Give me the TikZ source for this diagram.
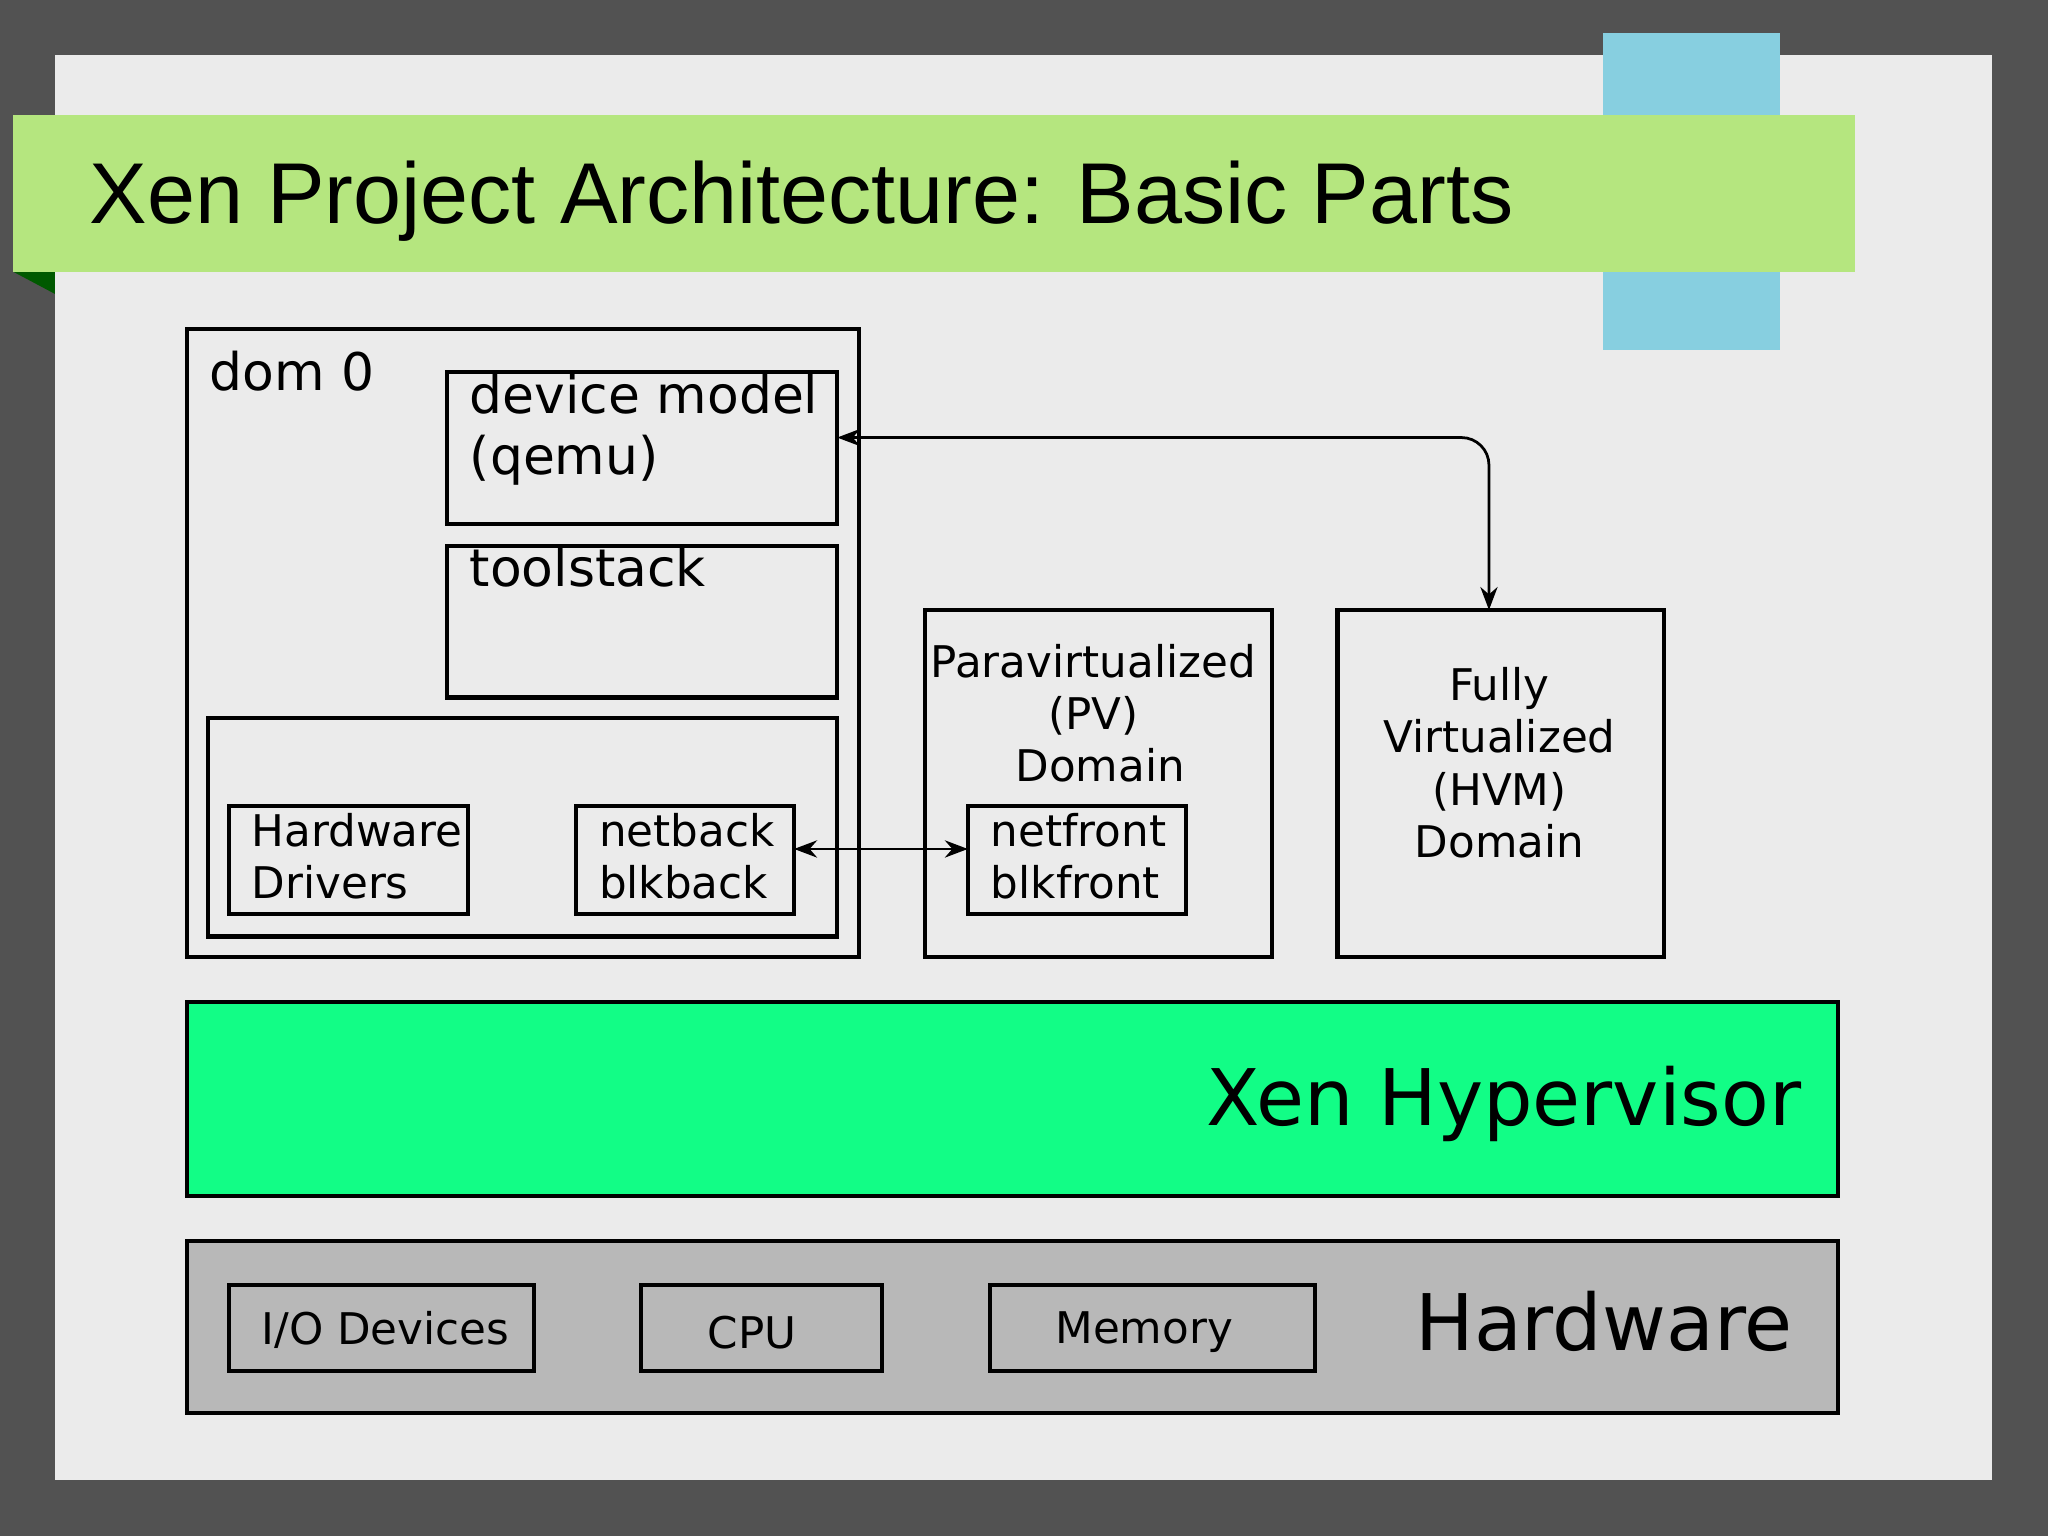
\documentclass[tikz,border=0pt]{standalone}
\usepackage{fontspec}
\setmainfont{DejaVu Sans}
\newfontfamily\titlef{Liberation Sans}
\usetikzlibrary{arrows.meta}
\definecolor{titlebar}{RGB}{181,230,127}
\definecolor{tab}{RGB}{135,207,224}
\begin{document}
\begin{tikzpicture}[x=0.01cm,y=-0.01cm,
  bx/.style={draw=black,line width=0.9pt},
  lbl/.style={font=\fontsize{11.3pt}{13.3pt}\selectfont,align=center,inner sep=0pt},
  sm/.style={font=\fontsize{9.5pt}{11.4pt}\selectfont},
  arr/.style={line width=0.6pt,{Stealth[length=5pt]}-{Stealth[length=5pt]}}]
\useasboundingbox (0,0) rectangle (1568,1176);
\fill[black!68] (0,0) rectangle (1568,1176);
\fill[black!8] (42,42) rectangle (1525,1133);
\fill[tab] (1227,25) rectangle (1363,268);
\fill[green!35!black] (10,208) -- (42,208) -- (42,225) -- cycle;
\fill[titlebar] (10,88) rectangle (1420,208);
\node[anchor=west,inner sep=0pt,font=\titlef\fontsize{18.8pt}{20pt}\selectfont] (title) at (68,154) {Xen Project Architecture: Basic Parts};
% dom0
\draw[bx] (143,252) rectangle (658,733);
\node[lbl,anchor=north west] (d0) at (160,268) {dom 0};
\draw[bx] (342,285) rectangle (641,401);
\node[lbl,anchor=north west,align=left] (dm) at (359,286) {device model\\(qemu)};
\draw[bx] (342,418) rectangle (641,534);
\node[lbl,anchor=north west] (ts) at (359,418) {toolstack};
\draw[bx] (159,550) rectangle (641,717);
\draw[bx] (175,617) rectangle (358,700);
\node[lbl,sm,anchor=north west,align=left] (hd) at (192,622) {Hardware\\Drivers};
\draw[bx] (441,617) rectangle (608,700);
\node[lbl,sm,anchor=north west,align=left] (nb) at (458,622) {netback\\blkback};
% PV
\draw[bx] (708,467) rectangle (974,733);
\node[lbl,sm] (pv) at (837,546) {Paravirtualized\\(PV)\\\ Domain};
\draw[bx] (741,617) rectangle (908,700);
\node[lbl,sm,anchor=north west,align=left] (nf) at (758,622) {netfront\\blkfront};
% HVM
\draw[bx] (1024,467) rectangle (1274,733);
\node[lbl,sm] (hvm) at (1148,584) {Fully\\Virtualized\\(HVM)\\Domain};
\coordinate (a1) at (641,335);
\coordinate (a2) at (1140,467);
\draw[arr,rounded corners=6pt] (a1) -- (1140,335) -- (a2);
\coordinate (b1) at (608,650);
\coordinate (b2) at (741,650);
\draw[arr] (b1) -- (b2);
% hypervisor
\draw[bx,fill={rgb,255:red,18;green,253;blue,134}] (143,767) rectangle (1407,916);
\node[lbl,anchor=east,font=\fontsize{17pt}{19pt}\selectfont] (xh) at (1380,845) {Xen Hypervisor};
% hardware
\draw[bx,fill=black!28] (143,950) rectangle (1407,1082);
\node[lbl,anchor=east,font=\fontsize{17pt}{19pt}\selectfont] (hw) at (1373,1012) {Hardware};
\draw[bx] (175,984) rectangle (409,1050);
\node[lbl,sm] (io) at (295,1018) {I/O Devices};
\draw[bx] (491,984) rectangle (675,1050);
\node[lbl,sm] (cpu) at (576,1020) {CPU};
\draw[bx] (758,984) rectangle (1007,1050);
\node[lbl,sm] (mem) at (876,1020) {Memory};
\end{tikzpicture}
\end{document}
